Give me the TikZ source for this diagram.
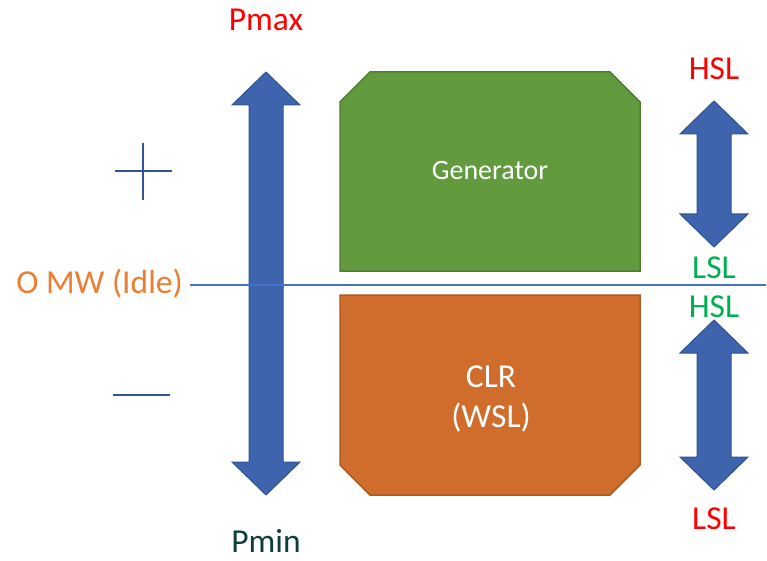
\documentclass[tikz,border=0pt]{standalone}
\usepackage{fontspec}
\setmainfont{Carlito}
\usepackage{xcolor}
\usetikzlibrary{positioning}

\definecolor{arrowfill}{HTML}{3E64AD}
\definecolor{arrowline}{HTML}{2F528F}
\definecolor{genfill}{HTML}{629B3E}
\definecolor{genline}{HTML}{507E32}
\definecolor{clrfill}{HTML}{D06C2C}
\definecolor{clrline}{HTML}{AE5A21}
\definecolor{idleorange}{HTML}{ED7D31}
\definecolor{zeroblue}{HTML}{4472C4}
\definecolor{signblue}{HTML}{2F5597}
\definecolor{limitred}{HTML}{FF0000}
\definecolor{limitgreen}{HTML}{00B050}
\definecolor{pmindark}{HTML}{0E3D3D}

% vertical block arrow with two heads: x, top y, bottom y
\newcommand{\dblarr}[3]{%
  \filldraw[blockarrow] (#1,#2) -- ++(34,33) -- ++(-17,0) -- ({#1+17},{#3-33})
    -- ++(17,0) -- (#1,#3) -- ++(-34,-33) -- ++(17,0) -- ({#1-17},{#2+33})
    -- ++(-17,0) -- cycle;
}

\begin{document}
\begin{tikzpicture}[x=1pt,y=-1pt,
    lbl/.style={inner sep=0pt, anchor=base, font=\fontsize{33.5}{40}\selectfont},
    blockarrow/.style={fill=arrowfill, draw=arrowline, line width=1pt, line join=miter},
    sign/.style={draw=signblue, line width=1.8pt}]
    \useasboundingbox (0,0) rectangle (767,561);

    % Power range of the unit
    \dblarr{266}{72}{495}
    \node[lbl, text=limitred] (pmax) at (266,31) {Pmax};
    \node[lbl, text=pmindark] (pmin) at (266,552) {Pmin};

    % Plus and minus signs
    \draw[sign] (115,171) -- (172,171);
    \draw[sign] (143,143) -- (143,200);
    \draw[sign] (113,395) -- (170,395);

    % Generator block
    \filldraw[fill=genfill, draw=genline, line width=1.5pt]
        (340,102) -- (370,72) -- (610,72) -- (640,102) -- (640,271) -- (340,271) -- cycle;
    \node[inner sep=0pt, anchor=base, text=white, font=\fontsize{28}{32}\selectfont] (gen) at (490,180) {Generator};

    % CLR block
    \filldraw[fill=clrfill, draw=clrline, line width=1.5pt]
        (340,295) -- (640,295) -- (640,465) -- (610,495) -- (370,495) -- (340,465) -- cycle;
    \node[lbl, text=white, align=center] (clr) at (491,427) {CLR\\(WSL)};

    % Zero line
    \node[lbl, text=idleorange, anchor=base east] (idle) at (183,293) {O MW (Idle)};
    \coordinate (lineend) at (766,284.5);
    \draw[zeroblue, line width=2pt] ([xshift=7pt]idle.east |- lineend) -- (lineend);

    % Ramp limits
    \dblarr{714}{101}{247}
    \dblarr{714}{320}{490}
    \node[lbl, text=limitred] (hslgen) at (714,80) {HSL};
    \node[lbl, text=limitgreen] (lslgen) at (714,278) {LSL};
    \node[lbl, text=limitgreen] (hslclr) at (714,317) {HSL};
    \node[lbl, text=limitred] (lslclr) at (714,529) {LSL};
\end{tikzpicture}
\end{document}
